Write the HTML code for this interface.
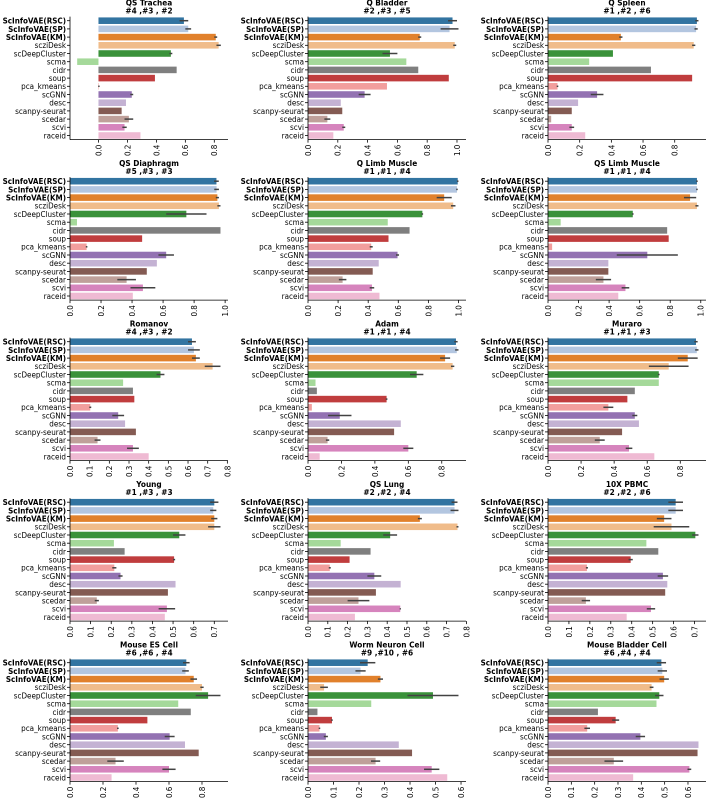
<!DOCTYPE html>
<html><head><meta charset="utf-8">
<style>
html,body{margin:0;padding:0;background:#fff;}
svg{display:block;}
text{font-family:"DejaVu Sans Condensed","Liberation Sans Narrow","DejaVu Sans",sans-serif;fill:#000;}
</style></head>
<body>
<svg id="chart" width="709" height="798" viewBox="0 0 709 798" xmlns="http://www.w3.org/2000/svg"></svg>
<script>
const methods = ["ScInfoVAE(RSC)","ScInfoVAE(SP)","ScInfoVAE(KM)","scziDesk","scDeepCluster","scma","cidr","soup","pca_kmeans","scGNN","desc","scanpy-seurat","scedar","scvi","raceid"];
const colors = ["#3274a1","#b3c6e0","#e1812c","#f0bc8a","#3a923a","#a5d99a","#7f7f7f","#c03d3e","#f29e9d","#9372b2","#c4b2d3","#845b53","#bfa09a","#d684bd","#efbad3"];
const titles = ["QS Trachea","Q Bladder","Q Spleen","QS Diaphragm","Q Limb Muscle","QS Limb Muscle","Romanov","Adam","Muraro","Young","QS Lung","10X PBMC","Mouse ES Cell","Worm Neuron Cell","Mouse Bladder Cell"];
const ranks = ["#4 ,#3 , #2","#2 ,#3 , #5","#1 ,#2 , #6","#5 ,#3 , #3","#1 ,#1 , #4","#1 ,#1 , #4","#4 ,#3 , #2","#1 ,#1 , #4","#1 ,#1 , #3","#1 ,#3 , #3","#2 ,#2 , #4","#2 ,#2 , #6","#6 ,#6 , #4","#9 ,#10 , #6","#6 ,#4 , #4"];
const tickMax = [0.8,1.0,0.8,1.0,1.0,1.0,0.8,0.8,0.8,0.7,0.8,0.7,0.8,0.6,0.6];
const tickStep = [0.2,0.2,0.2,0.2,0.2,0.2,0.1,0.2,0.2,0.1,0.1,0.1,0.2,0.1,0.1];
const values = [
[0.59,0.62,0.81,0.83,0.50,-0.147,0.54,0.39,0.003,0.23,0.19,0.16,0.21,0.18,0.29],
[0.97,0.95,0.75,0.985,0.55,0.66,0.74,0.945,0.53,0.38,0.22,0.23,0.13,0.24,0.17],
[0.94,0.935,0.46,0.92,0.41,0.26,0.65,0.91,0.06,0.31,0.19,0.15,0.02,0.15,0.235],
[0.944,0.945,0.95,0.96,0.75,0.045,0.97,0.465,0.107,0.62,0.56,0.495,0.365,0.47,0.405],
[0.995,0.99,0.905,0.965,0.76,0.53,0.675,0.535,0.42,0.595,0.47,0.43,0.23,0.425,0.475],
[0.975,0.975,0.93,0.975,0.555,0.083,0.78,0.79,0.027,0.65,0.395,0.395,0.363,0.507,0.46],
[0.62,0.63,0.64,0.725,0.46,0.27,0.32,0.327,0.103,0.245,0.28,0.335,0.14,0.32,0.40],
[0.885,0.89,0.82,0.865,0.65,0.045,0.053,0.47,0.023,0.19,0.555,0.515,0.117,0.60,0.07],
[0.895,0.90,0.845,0.73,0.67,0.67,0.525,0.48,0.365,0.525,0.55,0.448,0.313,0.49,0.643],
[0.70,0.695,0.70,0.70,0.53,0.213,0.265,0.505,0.215,0.245,0.512,0.475,0.13,0.47,0.46],
[0.74,0.74,0.565,0.755,0.415,0.165,0.316,0.21,0.11,0.335,0.468,0.343,0.255,0.466,0.237],
[0.61,0.61,0.555,0.59,0.704,0.47,0.527,0.395,0.186,0.549,0.57,0.56,0.181,0.492,0.376],
[0.705,0.70,0.75,0.80,0.837,0.656,0.732,0.469,0.29,0.604,0.697,0.78,0.276,0.60,0.252],
[0.234,0.206,0.284,0.063,0.49,0.248,0.037,0.094,0.045,0.07,0.356,0.408,0.265,0.485,0.546],
[0.486,0.49,0.498,0.444,0.477,0.465,0.214,0.29,0.168,0.396,0.645,0.641,0.282,0.606,0.365]
];
const errors = [
[0.03,0.02,0.01,0.015,0.01,0,0,0,0.005,0.01,0,0,0.03,0.015,0],
[0.03,0.06,0.01,0.01,0.05,0,0,0,0,0.04,0,0,0.02,0.01,0],
[0.01,0.01,0.01,0.01,0,0,0,0,0.005,0.04,0,0,0,0.015,0],
[0.015,0.015,0.01,0.01,0.13,0,0,0,0.005,0.05,0,0,0.06,0.08,0],
[0.005,0.005,0.05,0.015,0.005,0,0,0,0.01,0.01,0,0,0.025,0.015,0],
[0.005,0.005,0.04,0.01,0.005,0,0,0,0,0.2,0,0,0.05,0.025,0],
[0.02,0.03,0.02,0.04,0.02,0,0,0,0.005,0.03,0,0,0.015,0.03,0],
[0.01,0.01,0.03,0.01,0.04,0,0,0.005,0,0.07,0,0,0.01,0.03,0],
[0.01,0.01,0.06,0.12,0.005,0,0,0,0.03,0.015,0,0,0.03,0.02,0],
[0.02,0.015,0.015,0.03,0.03,0,0,0.005,0.01,0.01,0,0,0.01,0.04,0],
[0.015,0.02,0.01,0.005,0.035,0,0,0,0.005,0.035,0,0,0.055,0.003,0],
[0.035,0.035,0.035,0.085,0.015,0,0,0.01,0.005,0.025,0,0,0.02,0.02,0],
[0.02,0.02,0.02,0.01,0.075,0,0,0,0.005,0.03,0,0,0.05,0.04,0],
[0.03,0.02,0.01,0.015,0.1,0,0,0.003,0.003,0.008,0,0,0.018,0.03,0],
[0.02,0.02,0.02,0.008,0.018,0,0,0.015,0.012,0.02,0,0,0.04,0.008,0]
];

const svg = document.getElementById('chart');
const NS = 'http://www.w3.org/2000/svg';
function mk(tag, attrs, parent){
  const e = document.createElementNS(NS, tag);
  for (const k in attrs) e.setAttribute(k, attrs[k]);
  parent.appendChild(e);
  return e;
}
const colLeft = [70, 308, 548];
const plotW = 158;
const band = 8.2;
const rowPitch = 160.5;
const firstCenter = 20.7;

for (let p = 0; p < 15; p++) {
  const r = Math.floor(p / 3), c = p % 3;
  const g = mk('g', {}, svg);
  
  
  const vals = values[p], errs = errors[p];
  let hi = 0, lo = 0;
  vals.forEach((v, i) => { hi = Math.max(hi, v + errs[i]); lo = Math.min(lo, v - errs[i]); });
  const range = hi - lo;
  const xMin = lo < 0 ? lo - 0.05 * range : 0;
  const xMax = hi + 0.05 * range;
  const left = colLeft[c];
  const xs = v => left + (v - xMin) / (xMax - xMin) * plotW;
  const c0 = firstCenter + rowPitch * r;
  const ys = i => c0 + i * band;
  const top = c0 - band / 2, bottom = c0 + 14 * band + band / 2;

  // title
  const t1 = mk('text', {x: left + plotW / 2, y: c0 - 15, 'text-anchor': 'middle', 'font-size': '8.2', 'font-weight': 'bold'}, g);
  t1.textContent = titles[p];
  
  
  const t2 = mk('text', {x: left + plotW / 2, y: c0 - 7, 'text-anchor': 'middle', 'font-size': '8.2', 'font-weight': 'bold'}, g);
  t2.textContent = ranks[p];
  
  

  // bars
  vals.forEach((v, i) => {
    const x0 = xs(0), x1 = xs(v);
    const b = mk('rect', {x: Math.min(x0, x1), y: ys(i) - band * 0.4, width: Math.abs(x1 - x0), height: band * 0.8, fill: colors[i]}, g);
    
    
    if (errs[i] > 0) {
      const e = mk('line', {x1: xs(v - errs[i]), x2: xs(v + errs[i]), y1: ys(i), y2: ys(i), stroke: '#424242', 'stroke-width': 1.5}, g);
      
      
    }
    mk('line', {x1: left - 3, x2: left, y1: ys(i), y2: ys(i), stroke: '#000', 'stroke-width': 0.8}, g);
    const lb = mk('text', {x: left - 4, y: ys(i) + 2.9, 'text-anchor': 'end', 'font-size': '8', 'font-weight': i < 3 ? 'bold' : 'normal'}, g);
    lb.textContent = methods[i];
    
    
  });

  // spines
  const sp1 = mk('line', {x1: left, x2: left, y1: top, y2: bottom, stroke: '#000', 'stroke-width': 0.8}, g);
  
  
  const sp2 = mk('line', {x1: left, x2: left + plotW, y1: bottom, y2: bottom, stroke: '#000', 'stroke-width': 0.8}, g);
  
  

  // x ticks
  const n = Math.round(tickMax[p] / tickStep[p]);
  for (let k = 0; k <= n; k++) {
    const tv = k * tickStep[p];
    const tx = xs(tv);
    mk('line', {x1: tx, x2: tx, y1: bottom, y2: bottom + 3, stroke: '#000', 'stroke-width': 0.8}, g);
    const tl = mk('text', {x: 0, y: 0, 'text-anchor': 'end', 'font-size': '8', transform: 'translate(' + (tx + 2.9) + ',' + (bottom + 5) + ') rotate(-90)'}, g);
    tl.textContent = tv.toFixed(1);
    
    
  }
}
</script>
</body></html>
